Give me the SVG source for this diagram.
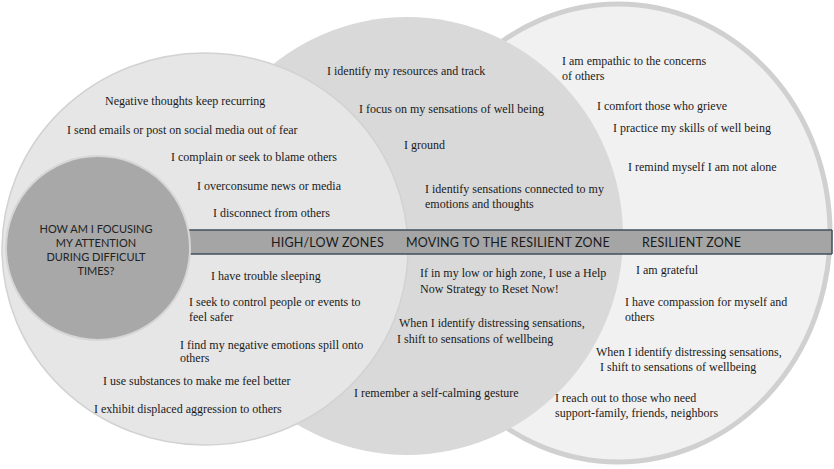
<svg xmlns="http://www.w3.org/2000/svg" width="834" height="469" viewBox="0 0 834 469">
<style>
text{font-family:"Liberation Serif",serif;font-size:12px;fill:#1a1a1a}
.cap{font-family:Lato,"Liberation Sans",sans-serif;font-size:11px;fill:#222}
.bar{font-family:Lato,"Liberation Sans",sans-serif;font-size:12.5px;fill:#1a1a1a;letter-spacing:0.2px}
</style>
<rect width="834" height="469" fill="#fff"/>
<g id="resilient"><ellipse cx="618" cy="233" rx="212" ry="229" fill="#f1f1f1" stroke="#d0d0d0" stroke-width="5"/></g>
<g id="moving"><ellipse cx="407" cy="236" rx="216" ry="219" fill="#d9d9d9"/></g>
<g id="highlow"><ellipse cx="205" cy="249" rx="203" ry="196" fill="#e6e6e6" stroke="#d2d2d2" stroke-width="1.5"/></g>
<g id="bar"><rect x="188" y="230" width="644" height="24" fill="#a5a5a5"/>
<line x1="188" y1="230" x2="832" y2="230" stroke="#3f4f5c" stroke-width="1.5"/>
<line x1="188" y1="254" x2="832" y2="254" stroke="#3f4f5c" stroke-width="1.5"/>
<line x1="832" y1="230" x2="832" y2="254" stroke="#3f4f5c" stroke-width="1.5"/>
<text class="bar" x="271" y="247">HIGH/LOW ZONES</text>
<text class="bar" x="406" y="247">MOVING TO THE RESILIENT ZONE</text>
<text class="bar" x="642" y="247">RESILIENT ZONE</text></g>
<g id="question"><circle cx="98" cy="248" r="92" fill="#a8a8a8" stroke="#d6d6d6" stroke-width="2"/>
<text class="cap" text-anchor="middle" x="96" y="233">HOW AM I FOCUSING</text>
<text class="cap" text-anchor="middle" x="96" y="247">MY ATTENTION</text>
<text class="cap" text-anchor="middle" x="96" y="261">DURING DIFFICULT</text>
<text class="cap" text-anchor="middle" x="96" y="275">TIMES?</text></g>
<g id="left-texts">
<text x="105" y="105">Negative thoughts keep recurring</text>
<text x="67" y="134">I send emails or post on social media out of fear</text>
<text x="171" y="161">I complain or seek to blame others</text>
<text x="197" y="190">I overconsume news or media</text>
<text x="213" y="217">I disconnect from others</text>
<text x="211" y="280">I have trouble sleeping</text>
<text x="189" y="306">I seek to control people or events to</text>
<text x="189" y="321">feel safer</text>
<text x="180" y="349">I find my negative emotions spill onto</text>
<text x="180" y="362">others</text>
<text x="103" y="385">I use substances to make me feel better</text>
<text x="94" y="413">I exhibit displaced aggression to others</text>
</g>
<g id="middle-texts">
<text x="327" y="75">I identify my resources and track</text>
<text x="359" y="113">I focus on my sensations of well being</text>
<text x="404" y="149">I ground</text>
<text x="425" y="193">I identify sensations connected to my</text>
<text x="425" y="208">emotions and thoughts</text>
<text x="420" y="277">If in my low or high zone, I use a Help</text>
<text x="420" y="293">Now Strategy to Reset Now!</text>
<text x="399" y="327">When I identify distressing sensations,</text>
<text x="397" y="343">I shift to sensations of wellbeing</text>
<text x="354" y="397">I remember a self-calming gesture</text>
</g>
<g id="right-texts">
<text x="562" y="65">I am empathic to the concerns</text>
<text x="562" y="80">of others</text>
<text x="597" y="110">I comfort those who grieve</text>
<text x="613" y="132">I practice my skills of well being</text>
<text x="628" y="171">I remind myself I am not alone</text>
<text x="636" y="274">I am grateful</text>
<text x="625" y="306">I have compassion for myself and</text>
<text x="625" y="321">others</text>
<text x="596" y="356">When I identify distressing sensations,</text>
<text x="600" y="371">I shift to sensations of wellbeing</text>
<text x="555" y="402">I reach out to those who need</text>
<text x="555" y="417">support-family, friends, neighbors</text>
</g>
</svg>
